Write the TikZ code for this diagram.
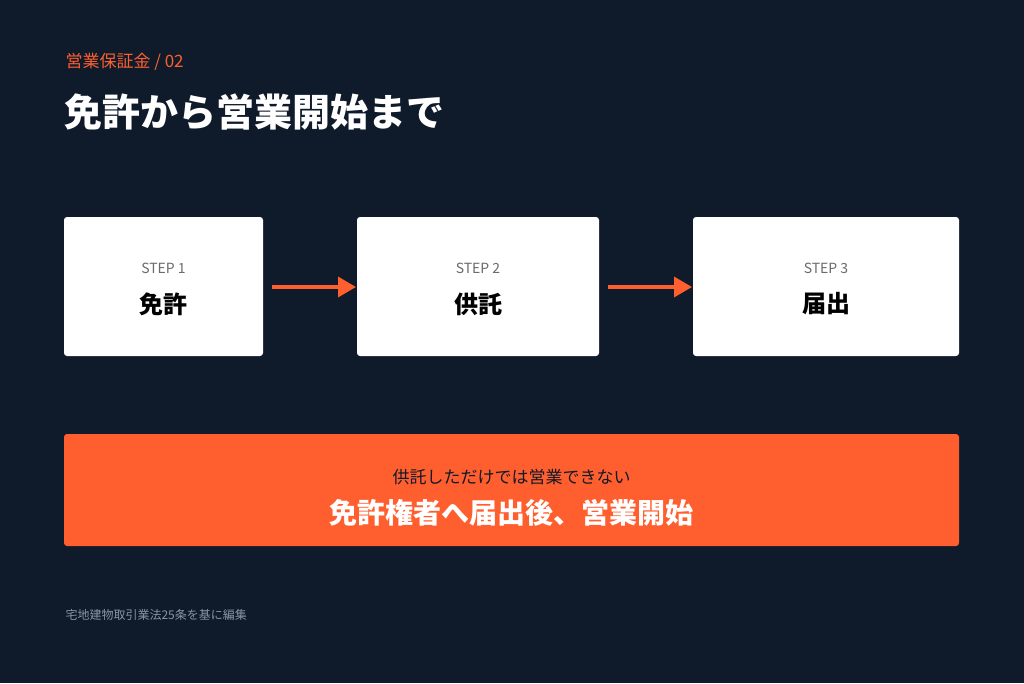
\documentclass[tikz,border=0pt]{standalone}
\usepackage{fontspec}
\setmainfont{Noto Sans CJK JP}
\usetikzlibrary{arrows.meta}
\definecolor{bg}{HTML}{0F1A2A}
\definecolor{accent}{HTML}{FF5F2E}
\definecolor{stepgray}{HTML}{6B6B6B}
\definecolor{footgray}{HTML}{8A93A0}
\tikzset{
  x=1pt,y=-1pt,
  card/.style={fill=white,rounded corners=3pt,draw=none},
  steplbl/.style={text=stepgray,font=\fontsize{14}{16}\selectfont,anchor=center},
  stepname/.style={text=black,font=\fontsize{24}{28}\selectfont\bfseries,anchor=center},
  flow/.style={draw=accent,line width=3.5pt,-{Triangle[length=18pt,width=20pt]}}
}
\begin{document}
\begin{tikzpicture}
\fill[bg] (0,0) rectangle (1024,683);
\useasboundingbox (0,0) rectangle (1024,683);
\node[anchor=west,text=accent,font=\fontsize{17}{20}\selectfont] (kicker) at (62,62) {営業保証金 / 02};
\node[anchor=west,text=white,font=\fontsize{38}{44}\selectfont\bfseries] (title) at (61,112) {免許から営業開始まで};
\fill[card] (64,217) rectangle (263,356);
\fill[card] (357,217) rectangle (599,356);
\fill[card] (693,217) rectangle (959,356);
\coordinate (b1r) at (272,287); \coordinate (b2l) at (356,287);
\coordinate (b2r) at (608,287); \coordinate (b3l) at (692,287);
\node[steplbl] (s1) at (163.5,268) {STEP 1};
\node[stepname] (n1) at (163.5,304) {免許};
\node[steplbl] (s2) at (478,268) {STEP 2};
\node[stepname] (n2) at (478,304) {供託};
\node[steplbl] (s3) at (826,268) {STEP 3};
\node[stepname] (n3) at (826,304) {届出};
\draw[flow] (b1r) -- (b2l);
\draw[flow] (b2r) -- (b3l);
\fill[accent,rounded corners=3pt] (64,434) rectangle (959,546);
\node[text=bg,font=\fontsize{17}{20}\selectfont] (sub) at (511.5,477) {供託しただけでは営業できない};
\node[text=white,font=\fontsize{28}{32}\selectfont\bfseries] (main) at (511.5,513) {免許権者へ届出後、営業開始};
\node[anchor=west,text=footgray,font=\fontsize{12}{14}\selectfont] (foot) at (62,615) {宅地建物取引業法25条を基に編集};
\end{tikzpicture}
\end{document}
